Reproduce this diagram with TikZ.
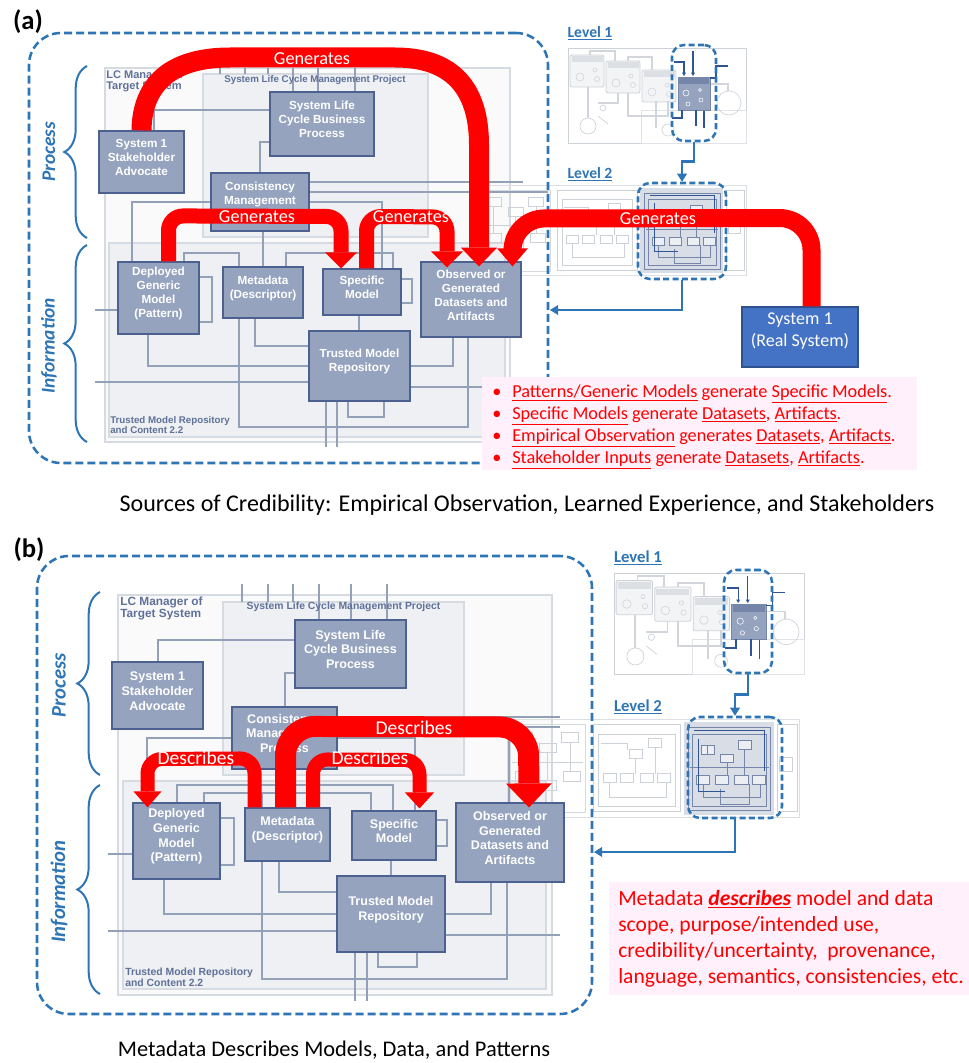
\documentclass[tikz,border=0pt]{standalone}
\usepackage{fontspec}
\setmainfont{Carlito}
\newfontfamily\arialf{Liberation Sans}
\usetikzlibrary{arrows.meta,decorations.pathreplacing,fit,calc}
\definecolor{nodefill}{HTML}{95A3BF}
\definecolor{nodeedge}{HTML}{4D6190}
\definecolor{lineg}{HTML}{93A1B8}
\definecolor{bgbox}{HTML}{EEF0F3}
\definecolor{bgedge}{HTML}{D6DAE1}
\definecolor{lcfill}{HTML}{FAFAFB}
\definecolor{dblue}{HTML}{2E75B6}
\definecolor{realfill}{HTML}{4472C4}
\definecolor{realedge}{HTML}{2F528F}
\definecolor{pinkbg}{HTML}{FFF0FB}
\definecolor{titleg}{HTML}{5F7199}
\definecolor{thumbg}{HTML}{CDD1D8}
\definecolor{thumbbox}{HTML}{F3F4F6}
\definecolor{hlfill}{HTML}{D8DDE6}
\definecolor{hlline}{HTML}{7586A8}
\definecolor{dkline}{HTML}{2F5597}

\newcommand\thumbL{%
 \draw[draw=thumbg, line width=0.5pt] (0,0) rectangle (178,95);
 \draw[draw=thumbg!60, line width=0.4pt] (73,62) rectangle (178,95);
 \foreach \xa/\ya in {2/7,38/13,74/22}{%
   \draw[draw=thumbg, fill=thumbbox, line width=0.6pt, rounded corners=1.5pt] (\xa,\ya) rectangle ++(34,32);
   \fill[thumbg!70] (\xa+1.5,\ya+1.5) rectangle ++(31,6);
   \draw[thumbg, line width=0.4pt] (\xa+10,\ya+22) circle (4);
   \draw[thumbg, line width=0.4pt] (\xa+25,\ya+15) circle (2);
   \draw[thumbg, line width=0.4pt] (\xa+27,\ya+24) circle (2.5);
 }
 \draw[thumbg!90, line width=1.4pt] (22,7) -- (22,3) -- (47,3) -- (47,13);
 \draw[thumbg!90, line width=1.4pt] (60,13) -- (60,9) -- (84,9) -- (84,22);
 \draw[thumbg!90, line width=1.4pt] (20,39) -- (20,70);
 \draw[thumbg!90, line width=1.4pt] (50,45) -- (50,55) -- (30,55);
 \draw[thumbg!90, line width=1.4pt] (60,45) -- (60,68) -- (100,68) -- (100,53);
 \draw[thumbg!90, line width=1.4pt] (88,53) -- (88,80);
 \draw[thumbg!90, line width=1.4pt] (142,36) -- (160,36) -- (160,43);
 \draw[thumbg, line width=0.5pt] (161,55) circle (12);
 \draw[thumbg, line width=0.5pt] (20,78) circle (8);
 \draw[thumbg, line width=0.5pt] (35,60) circle (3) (30,68) -- (40,76);
 \draw[thumbg, line width=0.5pt] (100,82) circle (6);
 \draw[draw=hlline, fill=nodefill, line width=0.6pt] (110,29) rectangle (142,62);
 \fill[hlline] (111,30) rectangle (141,36);
 \draw[white, line width=0.4pt] (118,45) circle (3) (132,42) circle (1.5) (133,52) circle (2) (120,56) circle (2);
 \draw[dkline, line width=0.9pt, -{Triangle[length=2.5pt,width=3pt,line width=0pt]}] (125,3) -- (125,28);
 \draw[dkline, line width=0.9pt, -{Triangle[length=2.5pt,width=3pt,line width=0pt]}] (106,14) -- (116,14) -- (116,28);
 \draw[dkline, line width=0.9pt] (142,30) -- (148,30) -- (148,18) -- (160,18);
 \draw[dkline, line width=0.9pt] (114,62) -- (114,70) -- (104,70);
 \draw[dkline, line width=0.9pt] (136,80) -- (136,63);
 \draw[dkline, line width=0.9pt] (128,62) -- (128,78);
}
\newcommand\thumbM{%
 \draw[draw=thumbg!70, line width=0.5pt] (0,0) rectangle (268,90);
 \draw[draw=thumbg!80, line width=0.5pt] (3,5) rectangle (72,86);
 \foreach \xa/\ya in {8/12,30/22,50/12,8/48,30/56,52/48}{\draw[draw=thumbg, line width=0.5pt] (\xa,\ya) rectangle ++(15,9);}
 \draw[thumbg, line width=0.5pt] (15,21)--(15,48) (37,31)--(37,56) (58,21)--(58,48) (5,40)--(70,40);
 \draw[draw=thumbg, line width=0.6pt] (79,5) rectangle (159,85);
 \draw[draw=thumbg, line width=0.5pt] (84,14) rectangle (154,80);
 \foreach \xa/\ya in {88/50,104/50,122/50,138/50,112/28,130/18}{\draw[draw=thumbg, fill=white, line width=0.5pt] (\xa,\ya) rectangle ++(12,8);}
 \draw[thumbg, line width=0.5pt] (94,58)--(94,72)--(146,72)--(146,58) (118,36)--(118,50) (136,26)--(136,50) (86,22)--(110,22)--(110,28);
 \fill[hlfill] (162,3) rectangle (245,88);
 \draw[draw=hlline, line width=0.6pt] (166,8) rectangle (242,84);
 \draw[draw=hlline, line width=0.5pt] (170,14) rectangle (238,80);
 \foreach \xa/\ya in {174/52,191/52,209/52,225/52,196/32,212/20,178/24}{\draw[draw=hlline, fill=hlfill!50!white, line width=0.5pt] (\xa,\ya) rectangle ++(12,8);}
 \draw[hlline, line width=0.5pt] (180,60)--(180,72)--(232,72)--(232,60) (202,40)--(202,52) (218,28)--(218,52) (168,44)--(240,44) (184,32)--(184,24) (196,64)--(196,78)--(222,78)--(222,60);
 \draw[dkline, line width=0.6pt] (172,10)--(236,10)--(236,48) (176,18)--(176,66)--(200,66);
 \draw[draw=thumbg, line width=0.5pt] (248,5) rectangle (266,85);
 \draw[draw=thumbg, line width=0.5pt] (250,35) rectangle (262,48);
}

\begin{document}
\begin{tikzpicture}[x=0.75pt,y=-0.75pt,
  nodebox/.style={draw=nodeedge, fill=nodefill, line width=0.9pt, inner sep=0pt, align=center, text=white, font=\arialf\bfseries\fontsize{8.8}{10.5}\selectfont},
  nodeboxb/.style={nodebox, font=\arialf\bfseries\fontsize{9.4}{11.1}\selectfont},
  bgrect/.style={draw=bgedge, fill=bgbox, line width=0.8pt, inner sep=0pt},
  lcrect/.style={draw=bgedge, fill=lcfill, line width=0.8pt, inner sep=0pt},
  gline/.style={draw=lineg, line width=0.8pt},
  dashpanel/.style={draw=dblue, line width=1.9pt, dash pattern=on 6pt off 3pt, rounded corners=24pt, inner sep=0pt},
  hlbox/.style={draw=dblue, line width=1.9pt, dash pattern=on 4.5pt off 2.5pt, rounded corners=9pt, inner sep=0pt},
  bluearrow/.style={draw=dblue, line width=1.9pt, -{Triangle[length=6pt,width=7.5pt,line width=0pt]}},
  bracestyle/.style={draw=dblue, line width=1.5pt, decorate, decoration={brace, amplitude=17pt}},
  sidelabel/.style={rotate=90, text=dblue, inner sep=0pt, font=\bfseries\itshape\fontsize{#1}{#1}\selectfont},
  levlab/.style={text=dblue, inner sep=0pt, font=\bfseries\fontsize{#1}{#1}\selectfont},
  graytitle/.style={text=titleg, inner sep=0pt, align=left, font=\arialf\bfseries\fontsize{#1}{#1}\selectfont},
  redlab/.style={text=white, inner sep=0pt, font=\fontsize{#1}{#1}\selectfont},
  redline/.style={text=red, inner sep=0pt, anchor=base west, font=\fontsize{13.7}{16}\selectfont},
  redlineb/.style={text=red, inner sep=0pt, anchor=base west, font=\fontsize{16.2}{19}\selectfont},
]
\useasboundingbox (0,0) rectangle (969,1063);
\fill[white] (0,0) rectangle (969,1063);

% ================= PANEL (a) =================
\node[lcrect, fit={(105,68) (510,442)}] (lca) {};
\node[bgrect, fit={(203,74) (428,237)}] (pja) {};
\node[bgrect, fit={(109,243) (505,437)}] (tca) {};

\begin{scope}[shift={(568,48)}] \thumbL \end{scope}
\begin{scope}[shift={(478,185)}] \thumbM \end{scope}

% gray connector lines (a)
\draw[gline] (154,131) -- (154,110) -- (270,110);
\draw[gline] (270,142) -- (260,142) -- (260,173);
\draw[gline] (211,202) -- (132,202) -- (132,262);
\draw[gline] (309,182) -- (523,182);
\draw[gline] (309,192) -- (548,192);
\draw[gline] (309,202) -- (382,202) -- (382,269);
\draw[gline] (184,262) -- (184,253) -- (239,253) -- (239,267);
\draw[gline] (263,231) -- (263,267);
\draw[gline] (286,267) -- (286,253) -- (393,253) -- (393,269);
\draw[gline] (199,277) -- (212,277) -- (212,322) -- (199,322);
\draw[gline] (401,279) -- (412,279) -- (412,303) -- (401,303);
\draw[gline] (95,310) -- (118,310);
\draw[gline] (95,382) -- (309,382);
\draw[gline] (148,334) -- (148,366) -- (309,366);
\draw[gline] (255,318) -- (255,346) -- (309,346);
\draw[gline] (359,315) -- (359,331);
\draw[gline] (453,337) -- (453,366) -- (410,366);
\draw[gline] (468,337) -- (468,427) -- (239,427) -- (239,318);
\draw[gline] (326,401) -- (326,447) (337,401) -- (337,447);
\draw[gline] (348,401) -- (348,417) -- (384,417) -- (384,401);
\draw[gline] (410,387) -- (482,387);
\draw[gline] (220,68) -- (220,74) (245,68) -- (245,74) (268,68) -- (268,74);
\draw[gline] (293,68) -- (293,92) (318,68) -- (318,92) (355,68) -- (355,92);

% nodes (a)
\node[nodebox, fit={(270,92) (374,156)}] (slcbp) {System Life\\Cycle Business\\Process};
\node[nodebox, fit={(99,131) (184,193)}] (s1sa) {System 1\\Stakeholder\\Advocate};
\node[nodebox, fit={(211,173) (309,231)}] (cons) {};
\node[nodebox, draw=none, fill=none] (constx) at (260,194.5) {Consistency\\Management};
\node[nodebox, fit={(118,262) (199,334)}] (dgm) {Deployed\\Generic\\Model\\(Pattern)};
\node[nodebox, fit={(223,267) (303,318)}] (meta) {Metadata\\(Descriptor)};
\node[nodebox, fit={(323,269) (401,315)}] (spec) {Specific\\Model};
\node[nodebox, fit={(421,262) (521,337)}] (obs) {Observed or\\Generated\\Datasets and\\Artifacts};
\node[nodebox, fit={(309,331) (410,401)}] (tmr) {Trusted Model\\Repository};
\node[fill=realfill, draw=realedge, line width=0.8pt, inner sep=0pt, align=center, text=white, font=\fontsize{13.5}{16.3}\selectfont, fit={(742,307) (858,367)}] (real) {System 1\\(Real System)};

\node[graytitle=8.3, anchor=north west] (lcta) at (106,70) {\fontsize{8.3}{10.5}\selectfont LC Manager of\\Target System};
\node[graytitle=7.3] (pjta) at (315,80) {System Life Cycle Management Project};
\node[graytitle=7.3, anchor=north west] (tcta) at (110,416) {\fontsize{7.3}{9}\selectfont Trusted Model Repository\\and Content 2.2};

% dashed frames and level links (a)
\node[dashpanel, fit={(29,33) (548,463)}] (pnla) {};
\node[hlbox, fit={(672,45) (716,141)}] (l1a) {};
\node[hlbox, fit={(638,183) (726,279)}] (l2a) {};
\draw[bluearrow] (l1a.south) -- ++(0,19) -| (l2a.north);
\coordinate (ina) at (550,310);
\draw[bluearrow] (l2a.south) |- (ina);
\node[levlab=11.7] (lv1a) at (590,33) {\underline{Level 1}};
\node[levlab=11.7] (lv2a) at (590,174) {\underline{Level 2}};

% red arrows (a)
\draw[draw=red, line width=15pt, -{Triangle[length=14pt,width=27pt,line width=0pt]}]
  (s1sa.north) .. controls (142,85) and (170,57.5) .. (230,57.5) -- (395,57.5)
  .. controls (452,57.5) and (479,88) .. (479,145) -- ([xshift=6pt,yshift=-3.75pt]obs.north);
\draw[draw=red, line width=11.25pt, rounded corners=11pt, -{Triangle[length=12pt,width=24pt,line width=0pt]}]
  ([xshift=7.5pt]dgm.north) -- ++(0,-45.5) -- (341,216.5) -- ([xshift=-15.75pt]spec.north);
\draw[draw=red, line width=11.25pt, rounded corners=11pt, -{Triangle[length=12pt,width=24pt,line width=0pt]}]
  ([xshift=3.375pt]spec.north) -- ++(0,-52) -- (447,217) -- ([xshift=-18pt,yshift=-4.5pt]obs.north);
\draw[draw=red, line width=13.5pt, rounded corners=24pt, -{Triangle[length=13.5pt,width=23pt,line width=0pt]}]
  ([xshift=8.625pt]real.north) -- ++(0,-88.5) -- (512.5,218.5) -- ([xshift=31.125pt,yshift=-3.75pt]obs.north);
\node[redlab=13.7] (ga1) at (312,59) {Generates};
\node[redlab=13.7] (ga2) at (257,217) {Generates};
\node[redlab=13.7] (ga3) at (411,217) {Generates};
\node[redlab=13.7] (ga4) at (658,219) {Generates};

% text box (a)
\node[fill=pinkbg, inner sep=0pt, fit={(482,377) (917,470)}] (txa) {};
\node[redline] (ra1) at (492,397.5) {\makebox[15pt][l]{•}\underline{Patterns/Generic Models} generate \underline{Specific Models}.};
\node[redline] (ra2) at (492,419.5) {\makebox[15pt][l]{•}\underline{Specific Models} generate \underline{Datasets}, \underline{Artifacts}.};
\node[redline] (ra3) at (492,441.5) {\makebox[15pt][l]{•}\underline{Empirical Observation} generates \underline{Datasets}, \underline{Artifacts}.};
\node[redline] (ra4) at (492,463.5) {\makebox[15pt][l]{•}\underline{Stakeholder Inputs} generate \underline{Datasets}, \underline{Artifacts}.};

\node[inner sep=0pt, font=\bfseries\fontsize{20}{24}\selectfont] (laba) at (28,22) {(a)};
\draw[bracestyle] (87,238) -- (87,66);
\draw[bracestyle] (87,442) -- (87,245);
\node[sidelabel=14.5] (proca) at (49,152) {Process};
\node[sidelabel=14.5] (infoa) at (49,346) {Information};
\node[inner sep=0pt, font=\fontsize{18}{22}\selectfont] (capa) at (527,505) {Sources of Credibility: Empirical Observation, Learned Experience, and Stakeholders};

% ================= PANEL (b) =================
\node[lcrect, fit={(118,595) (552,995)}] (lcb) {};
\node[bgrect, fit={(223,602) (464,775)}] (pjb) {};
\node[bgrect, fit={(123,781) (546,989)}] (tcb) {};

\begin{scope}[shift={(614,573)}, scale=1.07] \thumbL \end{scope}
\begin{scope}[shift={(507,719)}, scale=1.09] \thumbM \end{scope}

% gray connector lines (b)
\draw[gline] (158,662) -- (158,640) -- (295,640);
\draw[gline] (295,673) -- (285,673) -- (285,707);
\draw[gline] (232,738) -- (147,738) -- (147,803);
\draw[gline] (337,738) -- (415,738) -- (415,811);
\draw[gline] (337,717) -- (560,717);
\draw[gline] (560,727) -- (509,727) -- (509,803);
\draw[gline] (177,803) -- (177,785) -- (393,785) -- (393,811);
\draw[gline] (204,803) -- (204,793) -- (371,793) -- (371,811);
\draw[gline] (262,793) -- (262,808);
\draw[gline] (220,818) -- (234,818) -- (234,865) -- (220,865);
\draw[gline] (436,820) -- (447,820) -- (447,846) -- (436,846);
\draw[gline] (108,854) -- (133,854);
\draw[gline] (108,931) -- (337,931);
\draw[gline] (164,879) -- (164,914) -- (491,914) -- (491,882);
\draw[gline] (279,861) -- (279,892) -- (337,892);
\draw[gline] (262,861) -- (262,979) -- (507,979) -- (507,882);
\draw[gline] (391,860) -- (391,876);
\draw[gline] (355,952) -- (355,1001) (367,952) -- (367,1001);
\draw[gline] (378,952) -- (378,967) -- (417,967) -- (417,952);
\draw[gline] (445,935) -- (560,935);
\draw[gline] (242,584) -- (242,602) (268,584) -- (268,602) (293,584) -- (293,602);
\draw[gline] (319,584) -- (319,620) (351,584) -- (351,620) (387,584) -- (387,620);

% nodes (b)
\node[nodeboxb, fit={(295,620) (406,688)}] (slcbpb) {System Life\\Cycle Business\\Process};
\node[nodeboxb, fit={(112,662) (203,729)}] (s1sab) {System 1\\Stakeholder\\Advocate};
\node[nodeboxb, fit={(232,707) (337,769)}] (consb) {Consistency\\Management\\Process};
\node[nodeboxb, fit={(133,803) (220,879)}] (dgmb) {Deployed\\Generic\\Model\\(Pattern)};
\node[nodeboxb, fit={(245,808) (330,861)}] (metab) {Metadata\\(Descriptor)};
\node[nodeboxb, fit={(352,811) (436,860)}] (specb) {Specific\\Model};
\node[nodeboxb, fit={(456,803) (564,882)}] (obsb) {Observed or\\Generated\\Datasets and\\Artifacts};
\node[nodeboxb, fit={(337,876) (445,952)}] (tmrb) {Trusted Model\\Repository};

\node[graytitle=8.9, anchor=north west] (lctb) at (120,597) {\fontsize{8.9}{10.1}\selectfont LC Manager of\\Target System};
\node[graytitle=7.8] (pjtb) at (343.5,607) {System Life Cycle Management Project};
\node[graytitle=7.8, anchor=north west] (tctb) at (125,968) {\fontsize{7.8}{9.4}\selectfont Trusted Model Repository\\and Content 2.2};

% dashed frames and level links (b)
\node[dashpanel, fit={(37,556) (592,1014)}] (pnlb) {};
\node[hlbox, fit={(724,570) (772,673)}] (l1b) {};
\node[hlbox, fit={(688,717) (782,818)}] (l2b) {};
\draw[bluearrow] (l1b.south) -- ++(0,20) -| (l2b.north);
\coordinate (inb) at (594,852);
\draw[bluearrow] (l2b.south) |- (inb);
\node[levlab=12.5] (lv1b) at (638,558) {\underline{Level 1}};
\node[levlab=12.5] (lv2b) at (638,707) {\underline{Level 2}};

% red arrows (b)
\draw[draw=red, line width=15.75pt, rounded corners=22pt, -{Triangle[length=18pt,width=34.5pt,line width=0pt]}]
  ([xshift=-1.5pt]metab.north) -- ++(0,-81) -- (528.5,727) -- ([xshift=14.25pt,yshift=-3.75pt]obsb.north);
\draw[draw=red, line width=10.5pt, rounded corners=11pt, -{Triangle[length=12pt,width=21pt,line width=0pt]}]
  ([xshift=-24.75pt]metab.north) -- ++(0,-49) -- (147.5,759) -- ([xshift=-21.75pt,yshift=-3.75pt]dgmb.north);
\draw[draw=red, line width=10.5pt, rounded corners=11pt, -{Triangle[length=12pt,width=22pt,line width=0pt]}]
  ([xshift=19.125pt]metab.north) -- ++(0,-48) -- (419.5,760) -- ([xshift=19.125pt,yshift=1.5pt]specb.north);
\node[redlab=14.7] (db1) at (414,728) {Describes};
\node[redlab=14.7] (db2) at (196,758) {Describes};
\node[redlab=14.7] (db3) at (370,758) {Describes};

% text box (b)
\node[fill=pinkbg, inner sep=0pt, fit={(609,882) (969,995)}] (txb) {};
\node[redlineb] (rb1) at (618,905) {Metadata \underline{\textbf{\textit{describes}}} model and data};
\node[redlineb] (rb2) at (618,931) {scope, purpose/intended use,};
\node[redlineb] (rb3) at (618,957) {credibility/uncertainty,~ provenance,};
\node[redlineb] (rb4) at (618,983) {language, semantics, consistencies, etc.};

\node[inner sep=0pt, font=\bfseries\fontsize{20}{24}\selectfont] (labb) at (29,550) {(b)};
\draw[bracestyle] (100,775) -- (100,592);
\draw[bracestyle] (100,994) -- (100,785);
\node[sidelabel=15.5] (procb) at (59,685.5) {Process};
\node[sidelabel=15.5] (infob) at (59,891.6) {Information};
\node[inner sep=0pt, font=\fontsize{16.8}{20}\selectfont] (capb) at (334,1050) {Metadata Describes Models, Data, and Patterns};
\end{tikzpicture}
\end{document}
